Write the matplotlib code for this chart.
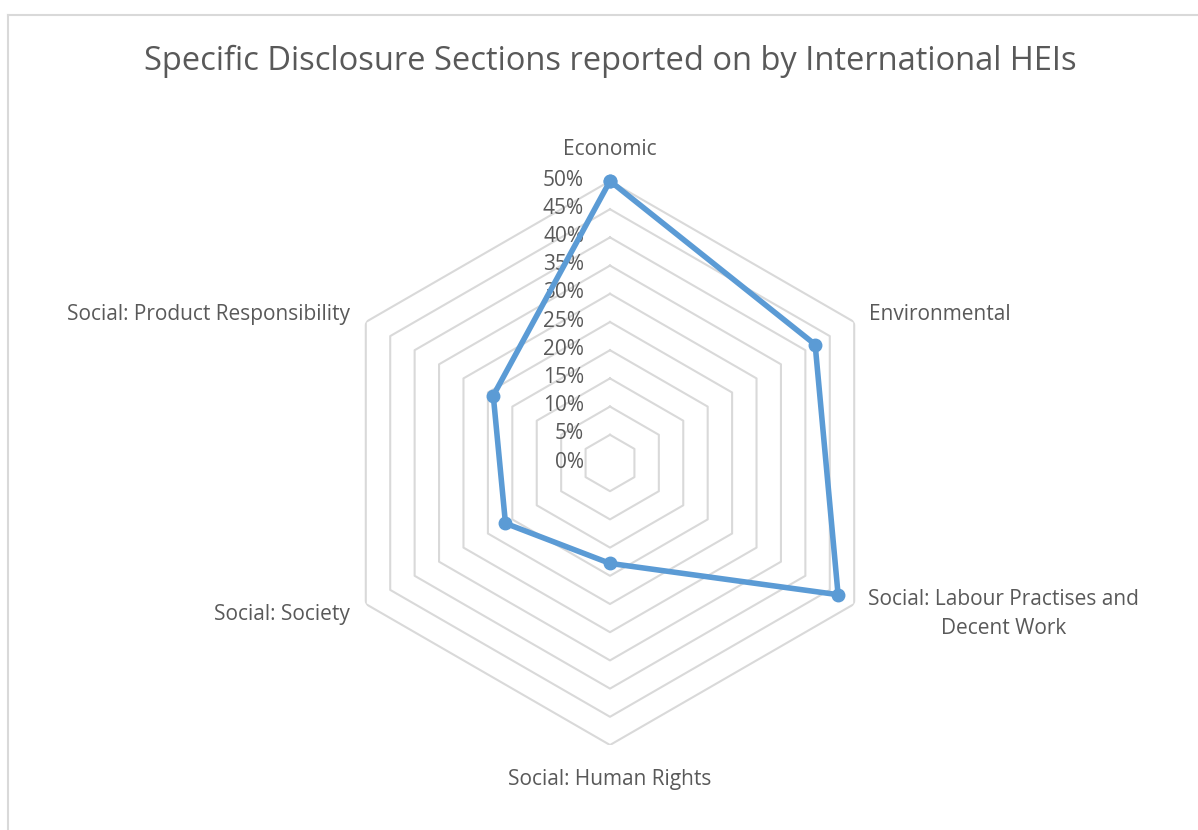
"""Radar chart: specific disclosure sections reported on by international HEIs."""
import numpy as np
import matplotlib
matplotlib.use("Agg")
import matplotlib.pyplot as plt
from matplotlib.lines import Line2D

categories = [
    "Economic",
    "Environmental",
    "Social: Labour Practises and\nDecent Work",
    "Social: Human Rights",
    "Social: Society",
    "Social: Product Responsibility",
]
shares = [0.50, 0.42, 0.467, 0.178, 0.214, 0.239]
levels = [0.05, 0.10, 0.15, 0.20, 0.25, 0.30, 0.35, 0.40, 0.45, 0.50]
level_labels = ["0%", "5%", "10%", "15%", "20%", "25%", "30%", "35%", "40%", "45%", "50%"]

TEXT = "#595959"
GRID = "#D9D9D9"
LINE = "#5B9BD5"
FONT = "Open Sans"

W, H = 1198, 830
fig = plt.figure(figsize=(W / 100, H / 100), dpi=100)
fig.patch.set_facecolor("white")

# light grey chart-area frame (left and top edges visible)
fig.add_artist(Line2D([8 / W, 8 / W], [0, 1 - 15 / H], color=GRID, lw=1.5))
fig.add_artist(Line2D([8 / W, 1], [1 - 15 / H, 1 - 15 / H], color=GRID, lw=1.5))

fig.text(610 / W, 1 - 61 / H, "Specific Disclosure Sections reported on by International HEIs",
         ha="center", va="center", fontsize=23.5, color=TEXT, family=FONT)

cx, cy, rad = 610, 463, 282
ax = fig.add_axes([(cx - rad) / W, (H - cy - rad) / H, 2 * rad / W, 2 * rad / H],
                  projection="polar")
ax.set_theta_offset(np.pi / 2)
ax.set_theta_direction(-1)
ax.set_ylim(0, 0.5)
ax.grid(False)
ax.set_xticks([])
ax.set_yticks([])
ax.spines["polar"].set_visible(False)
ax.patch.set_alpha(0)

n = len(categories)
theta = np.linspace(0, 2 * np.pi, n, endpoint=False)
closed = np.append(theta, theta[0])

# hexagonal gridlines
for lv in levels:
    ax.plot(closed, [lv] * (n + 1), color=GRID, lw=1.5, zorder=1)

# radial tick labels
for lv, lab in zip([0.0] + levels, level_labels):
    ax.annotate(lab, xy=(0, lv), xytext=(-26, 1), textcoords="offset pixels",
                ha="right", va="center", fontsize=15, color=TEXT, family=FONT,
                annotation_clip=False)

# data series
vals = shares + shares[:1]
ax.plot(closed, vals, color=LINE, lw=4, marker="o", markersize=9, zorder=3,
        solid_joinstyle="round", clip_on=False)

# category labels
offsets = [(0, 32, "center"), (15, 8, "left"), (14, -10, "left"),
           (0, -34, "center"), (-16, -10, "right"), (-16, 8, "right")]
for t, lab, (dx, dy, ha) in zip(theta, categories, offsets):
    ax.annotate(lab, xy=(t, 0.5), xytext=(dx, dy), textcoords="offset pixels",
                ha=ha, va="center", multialignment="center", fontsize=15,
                color=TEXT, family=FONT, linespacing=1.45, annotation_clip=False)

fig.savefig("out.png", dpi=100)
